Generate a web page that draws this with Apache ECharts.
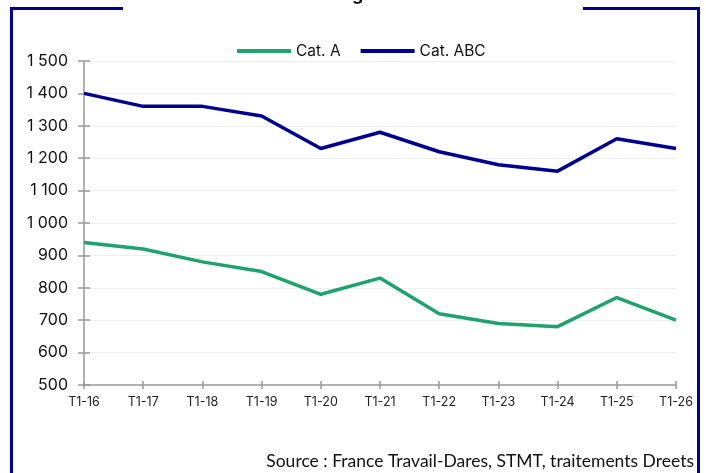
<!DOCTYPE html>
<html><head><meta charset="utf-8">
<script src="https://cdn.jsdelivr.net/npm/echarts@6/dist/echarts.min.js"></script>
<style>html,body{margin:0;padding:0;background:#fff}#c{width:706px;height:473px}</style>
</head><body><div id="c"></div>
<script>
const categories = ['T1-16','T1-17','T1-18','T1-19','T1-20','T1-21','T1-22','T1-23','T1-24','T1-25','T1-26'];
const catA = [940, 920, 880, 850, 780, 830, 720, 690, 680, 770, 700];
const catABC = [1400, 1360, 1360, 1330, 1230, 1280, 1220, 1180, 1160, 1260, 1230];
const seriesNames = ['Cat. A', 'Cat. ABC'];
const sourceText = 'Source : France Travail-Dares, STMT, traitements Dreets';

const FONT = 'Inter';
const fmt = v => { const s = String(v); return s.length > 3 ? s.slice(0, s.length-3) + ' ' + s.slice(-3) : s; };
const gridDef = {left: 84, right: 30, top: 61, bottom: 88};
const chart = echarts.init(document.getElementById('c'), null, {renderer: 'canvas'});
const navy = '#000091';
chart.setOption({
  animation: false,
  textStyle: {fontFamily: FONT},
  grid: [gridDef, gridDef],
  legend: {
    top: 38, left: 232, itemWidth: 54, itemHeight: 4, itemGap: 20,
    textStyle: {fontSize: 15.5, color: '#111', fontFamily: FONT},
    data: seriesNames.map(n => ({name: n, icon: 'rect'}))
  },
  xAxis: [
    {type: 'category', data: categories, boundaryGap: false, gridIndex: 0,
     axisLine: {lineStyle: {color: '#999', width: 1.5}},
     axisTick: {length: 4, lineStyle: {color: '#999', width: 1.5}},
     axisLabel: {fontSize: 12.5, color: '#222', margin: 11, fontFamily: FONT}},
    {type: 'category', data: categories, boundaryGap: false, gridIndex: 1,
     axisLine: {show: false},
     axisTick: {inside: true, length: 4, lineStyle: {color: '#999', width: 1.5}},
     axisLabel: {show: false}}
  ],
  yAxis: [
    {type: 'value', min: 500, max: 1500, interval: 100, gridIndex: 0,
     axisLine: {show: true, lineStyle: {color: '#999', width: 1.5}},
     axisTick: {show: true, length: 6, lineStyle: {color: '#999', width: 1.5}},
     splitLine: {lineStyle: {color: '#eeeeee', width: 1}},
     axisLabel: {fontSize: 16, color: '#111', margin: 16, formatter: fmt, fontFamily: FONT}},
    {type: 'value', min: 500, max: 1500, interval: 100, gridIndex: 1,
     axisLine: {show: false},
     axisTick: {show: true, inside: true, length: 6, lineStyle: {color: '#999', width: 1.5}},
     splitLine: {show: false}, axisLabel: {show: false}}
  ],
  series: [
    {name: seriesNames[0], type: 'line', data: catA, showSymbol: false, symbol: 'none',
     lineStyle: {color: '#1fa36d', width: 3.5}, itemStyle: {color: '#1fa36d'}},
    {name: seriesNames[1], type: 'line', data: catABC, showSymbol: false, symbol: 'none',
     lineStyle: {color: navy, width: 3.5}, itemStyle: {color: navy}}
  ],
  graphic: [
    {type: 'polyline', shape: {points: [[11.5, 473], [11.5, 8.5], [123, 8.5]]}, style: {stroke: navy, lineWidth: 3, fill: null}, z: 10},
    {type: 'polyline', shape: {points: [[583, 8.5], [698.5, 8.5], [698.5, 473]]}, style: {stroke: navy, lineWidth: 3, fill: null}, z: 10},
    {type: 'text', left: 352, top: -14, style: {text: 'g', font: 'bold 18px ' + FONT, fill: '#111'}, z: 10},
    {type: 'text', right: 12, top: 452, style: {text: sourceText, font: '17.5px Lato', fill: '#111'}, z: 10}
  ]
});
</script></body></html>
